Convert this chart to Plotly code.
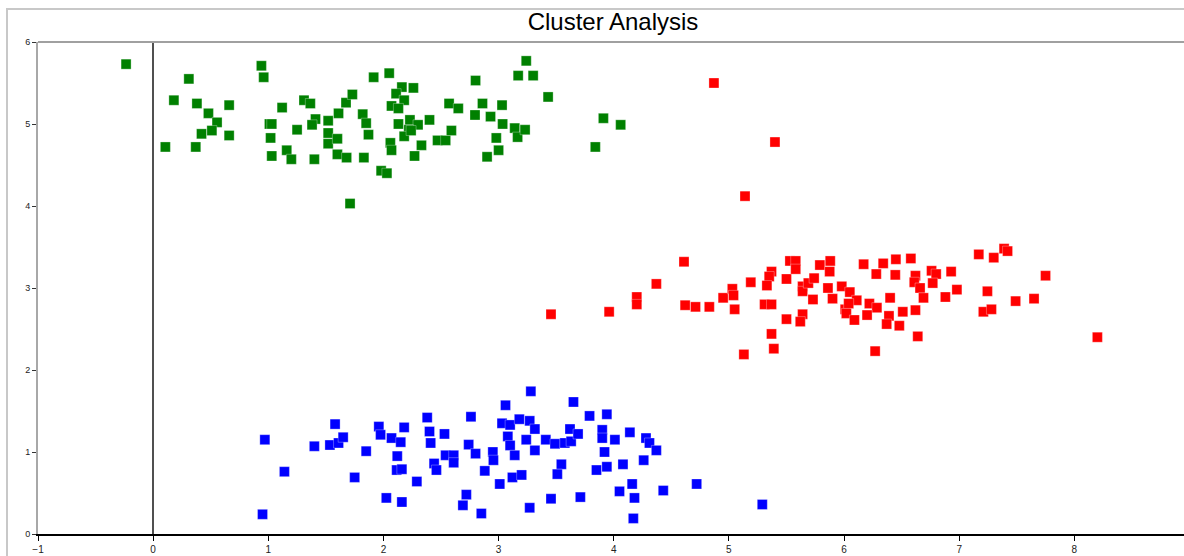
import plotly.graph_objects as go

# ---- data ----
green_x = [-0.235, 0.94, 0.96, 0.31, 0.18, 0.38, 0.66, 0.48, 0.555, 0.51, 0.42, 0.66, 0.106, 0.37,
           1.12, 1.01, 1.03, 1.02, 1.03, 1.25, 1.16, 1.20, 1.40, 1.31, 1.365, 1.41, 1.38, 1.52, 1.61,
           1.675, 1.73, 1.52, 1.52, 1.60, 1.60, 1.68, 1.82, 1.85, 1.87, 1.83, 1.915, 2.05, 2.16, 2.26,
           2.11, 2.18, 2.07, 2.13, 2.13, 2.23, 2.30, 2.22, 2.18, 2.24, 2.40, 2.06, 2.07, 2.33, 2.27,
           1.98, 2.03, 1.71, 2.47, 2.54, 2.59, 2.57, 2.65, 2.80, 2.86, 2.795, 2.93, 3.03, 3.035, 2.98,
           3.00, 2.90, 3.14, 3.165, 3.23, 3.17, 3.24, 3.30, 3.43, 3.84, 3.91, 4.06]
green_y = [5.73, 5.71, 5.57, 5.55, 5.29, 5.25, 5.23, 5.13, 5.02, 4.92, 4.88, 4.86, 4.72, 4.72,
           5.20, 5.00, 5.00, 4.83, 4.61, 4.93, 4.68, 4.57, 4.57, 5.29, 5.25, 5.06, 4.99, 5.04, 5.13,
           5.26, 5.36, 4.89, 4.76, 4.82, 4.63, 4.59, 5.12, 5.01, 4.87, 4.59, 5.57, 5.62, 5.45, 5.44,
           5.37, 5.29, 5.22, 5.19, 5.00, 5.05, 4.99, 4.93, 4.85, 4.92, 5.05, 4.77, 4.68, 4.74, 4.61,
           4.43, 4.40, 4.03, 4.80, 4.80, 4.92, 5.25, 5.19, 5.53, 5.25, 5.11, 5.09, 5.23, 5.00, 4.83,
           4.68, 4.60, 4.95, 4.84, 4.93, 5.59, 5.77, 5.59, 5.33, 4.72, 5.07, 4.99]

red_x = [3.455, 3.96, 4.20, 4.20, 4.37, 4.61, 4.62, 4.71, 4.83, 4.95, 5.03, 5.04, 5.05, 5.19, 5.13,
         5.37, 5.35, 5.33, 5.31, 5.37, 5.37, 5.39, 5.50, 5.53, 5.58, 5.58, 5.50, 5.64, 5.62, 5.64,
         5.64, 5.69, 5.74, 5.73, 5.79, 5.88, 5.875, 5.86, 5.90, 5.98, 6.05, 6.11, 6.01, 6.04, 6.02,
         6.09, 6.17, 6.28, 6.34, 6.45, 6.445, 6.22, 6.285, 6.20, 6.40, 6.39, 6.37, 6.48, 6.51, 6.27,
         6.58, 6.62, 6.61, 6.66, 6.69, 6.76, 6.80, 6.77, 6.62, 6.64, 6.88, 6.93, 6.98, 7.17, 7.30,
         7.39, 7.42, 7.245, 7.21, 7.28, 7.49, 7.65, 7.75, 8.20, 4.87, 5.40, 5.14]
red_y = [2.68, 2.71, 2.89, 2.80, 3.05, 3.32, 2.79, 2.77, 2.77, 2.88, 2.99, 2.91, 2.74, 3.07, 2.19,
         3.20, 3.14, 3.03, 2.80, 2.80, 2.44, 2.26, 3.11, 3.33, 3.33, 3.23, 2.62, 2.68, 2.59, 3.02,
         2.96, 3.06, 3.12, 2.86, 3.28, 3.33, 3.20, 3.00, 2.87, 3.02, 2.95, 2.85, 2.74, 2.81, 2.69,
         2.61, 3.29, 3.17, 3.30, 3.35, 3.16, 2.81, 2.76, 2.67, 2.88, 2.66, 2.56, 2.54, 2.71, 2.23,
         3.36, 3.15, 3.07, 3.00, 2.88, 3.21, 3.17, 3.06, 2.73, 2.41, 2.89, 3.20, 2.98, 3.41, 3.37,
         3.48, 3.45, 2.96, 2.71, 2.74, 2.84, 2.87, 3.15, 2.40, 5.50, 4.78, 4.12]

blue_x = [0.95, 0.97, 1.14, 1.40, 1.535, 1.58, 1.61, 1.65, 1.75, 1.85, 1.96, 1.975, 2.025, 2.07,
          2.15, 2.18, 2.12, 2.115, 2.16, 2.16, 2.29, 2.38, 2.40, 2.41, 2.44, 2.46, 2.53, 2.54, 2.61,
          2.61, 2.72, 2.69, 2.74, 2.76, 2.80, 2.85, 2.88, 2.95, 2.955, 3.01, 3.06, 3.03, 3.10, 3.08,
          3.10, 3.14, 3.12, 3.20, 3.18, 3.27, 3.28, 3.315, 3.24, 3.315, 3.27, 3.41, 3.49, 3.575, 3.63,
          3.545, 3.51, 3.455, 3.62, 3.69, 3.65, 3.71, 3.79, 3.90, 3.90, 3.94, 3.92, 3.85, 3.94, 4.01,
          4.14, 4.08, 4.05, 4.16, 4.18, 4.17, 4.28, 4.31, 4.37, 4.26, 4.43, 4.72, 5.29]
blue_y = [0.24, 1.15, 0.76, 1.07, 1.085, 1.34, 1.11, 1.18, 0.69, 1.01, 1.31, 1.21, 0.44, 1.17,
          1.12, 1.30, 0.95, 0.78, 0.79, 0.39, 0.64, 1.42, 1.25, 1.11, 0.86, 0.78, 1.22, 0.96, 0.96,
          0.87, 0.48, 0.35, 1.09, 1.43, 0.98, 0.25, 0.77, 1.00, 0.90, 0.61, 1.57, 1.35, 1.33, 1.19,
          1.08, 0.96, 0.69, 0.72, 1.40, 1.38, 1.74, 1.28, 1.15, 1.02, 0.32, 1.15, 1.10, 1.11, 1.13,
          0.85, 0.73, 0.43, 1.28, 1.22, 1.61, 0.45, 1.44, 1.27, 1.17, 1.46, 1.00, 0.78, 0.82, 1.15,
          1.24, 0.85, 0.52, 0.61, 0.44, 0.19, 1.17, 1.11, 1.02, 0.90, 0.53, 0.61, 0.36]

series = [("Cluster 1", green_x, green_y, "#008000"),
          ("Cluster 2", red_x, red_y, "#FF0000"),
          ("Cluster 3", blue_x, blue_y, "#0000FF")]

W, H = 1184, 556
L, R, T, B = 38, 0, 42, 22

fig = go.Figure()
for name, xs, ys, col in series:
    fig.add_trace(go.Scatter(
        x=xs, y=ys, mode="markers", name=name,
        marker=dict(symbol="square", size=10, color=col,
                    line=dict(width=0.6, color="rgba(255,255,255,0.5)")),
    ))

plot_w = W - L - R
plot_h = H - T - B

shapes = [
    # outer frame of the chart control
    dict(type="rect", xref="paper", yref="paper",
         x0=(7 - L) / plot_w, x1=1.2,
         y0=-0.2, y1=(H - B - 9) / plot_h,
         line=dict(color="#C8C8C8", width=2), layer="below"),
    # top border of the plot area
    dict(type="line", xref="paper", yref="paper", x0=0, x1=1, y0=1, y1=1,
         line=dict(color="#A0A0A0", width=2)),
]

fig.update_layout(
    width=W, height=H,
    margin=dict(l=L, r=R, t=T, b=B),
    paper_bgcolor="white", plot_bgcolor="white",
    showlegend=False,
    title=dict(text="Cluster Analysis", x=613 / W, xref="container", xanchor="center",
               y=1 - 22 / H, yref="container", yanchor="middle",
               font=dict(family="Liberation Sans, Arial, sans-serif", size=24, color="black")),
    font=dict(family="Liberation Sans, Arial, sans-serif", size=10, color="#222"),
    shapes=shapes,
    xaxis=dict(range=[-1, -1 + plot_w / 115.15], tickmode="linear", tick0=-1, dtick=1,
               showgrid=False, zeroline=True, zerolinecolor="#505050", zerolinewidth=1.5,
               showline=True, linecolor="black", linewidth=2,
               ticks="outside", ticklen=5, tickcolor="black", tickwidth=1,
               tickfont=dict(size=10, color="#222")),
    yaxis=dict(range=[0, 6], tickmode="linear", tick0=0, dtick=1,
               showgrid=False, zeroline=False,
               showline=True, linecolor="#A8A8A8", linewidth=2,
               ticks="outside", ticklen=4, tickcolor="#333", tickwidth=1,
               ticklabelstandoff=0,
               tickfont=dict(size=9, color="#222")),
)

fig.write_html("out.html", config={"displayModeBar": False},
               post_script="document.body.style.margin='0';document.body.style.overflow='hidden';")
